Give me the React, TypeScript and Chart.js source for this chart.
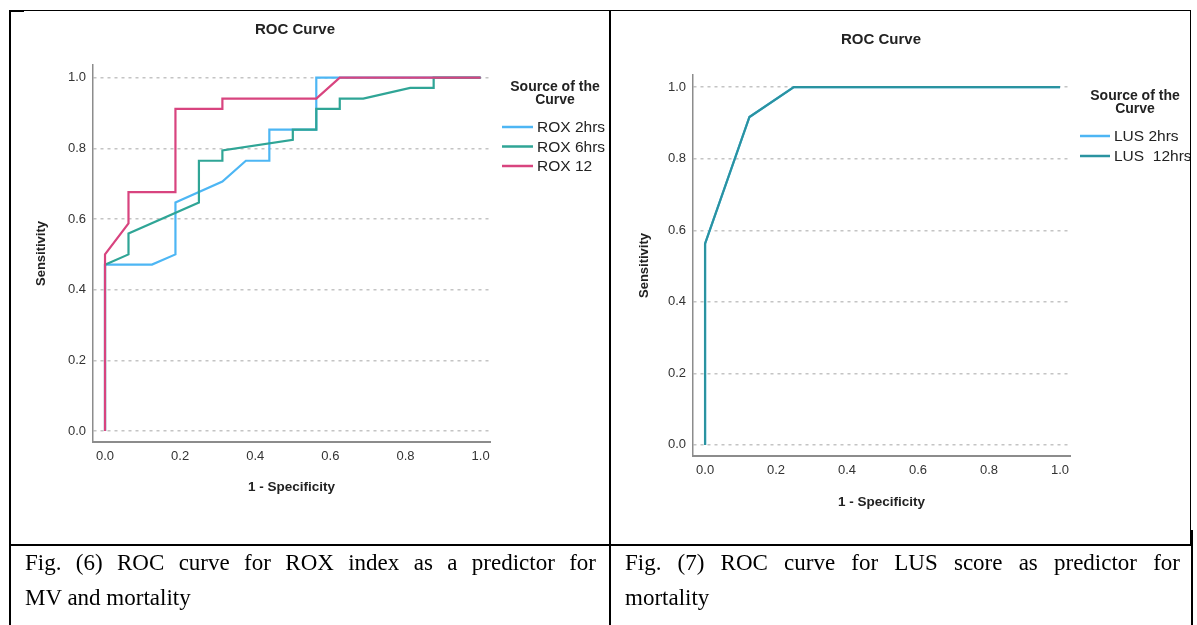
import React, { useEffect, useRef } from "react";
import { Chart, registerables } from "chart.js";

Chart.register(...registerables);

const FONT = "'Liberation Sans', Arial, sans-serif";

// Tick values for both axes
const xTickValues = [0, 0.2, 0.4, 0.6, 0.8, 1.0];
const yTickValues = [0, 0.2, 0.4, 0.6, 0.8, 1.0];

// Fig. 6 — ROX index (1 - specificity, sensitivity)
const rox2Label = "ROX 2hrs";
const rox2X = [0, 0, 0.125, 0.1875, 0.1875, 0.3125, 0.375, 0.4375, 0.4375, 0.5625, 0.5625, 1.0];
const rox2Y = [0, 0.471, 0.471, 0.5, 0.647, 0.706, 0.765, 0.765, 0.853, 0.853, 1.0, 1.0];

const rox6Label = "ROX 6hrs";
const rox6X = [0, 0, 0.0625, 0.0625, 0.25, 0.25, 0.3125, 0.3125, 0.5, 0.5, 0.5625, 0.5625, 0.625, 0.625, 0.6875, 0.8125, 0.875, 0.875, 1.0];
const rox6Y = [0, 0.471, 0.5, 0.559, 0.647, 0.765, 0.765, 0.794, 0.824, 0.853, 0.853, 0.912, 0.912, 0.941, 0.941, 0.971, 0.971, 1.0, 1.0];

const rox12Label = "ROX 12";
const rox12X = [0, 0, 0.0625, 0.0625, 0.1875, 0.1875, 0.3125, 0.3125, 0.5625, 0.625, 1.0];
const rox12Y = [0, 0.5, 0.588, 0.676, 0.676, 0.912, 0.912, 0.941, 0.941, 1.0, 1.0];

// Fig. 7 — LUS score
const lus2Label = "LUS 2hrs";
const lus2X = [0, 0, 0.125, 0.25, 1.0];
const lus2Y = [0, 0.5625, 0.9167, 1.0, 1.0];

const lus12Label = "LUS  12hrs";
const lus12X = [0, 0, 0.125, 0.25, 1.0];
const lus12Y = [0, 0.5625, 0.9167, 1.0, 1.0];

const chartTitle = "ROC Curve";
const legendTitle = ["Source of the", "Curve"];
const xAxisTitle = "1 - Specificity";
const yAxisTitle = "Sensitivity";

const caption6Lines = ["Fig. (6) ROC curve for ROX index as a predictor for", "MV and mortality"];
const caption7Lines = ["Fig. (7) ROC curve for LUS score as predictor for", "mortality"];

type Series = { label: string; xs: number[]; ys: number[]; color: string; order: number };

type Geo = {
  width: number;
  height: number;
  padLeft: number;
  padRight: number;
  padTop: number;
  padBottom: number;
  yScaleWidth: number;
  xScaleHeight: number;
  xMin: number;
  xMax: number;
  yMin: number;
  yMax: number;
  titleX: number;
  titleY: number;
  legendX: number;
  legendTitleY: number;
  entryY: number;
  entryGap: number;
  lineX0: number;
  lineX1: number;
  textX: number;
};

function makeDecor(geo: Geo) {
  return {
    id: "decor",
    afterDraw(chart: any) {
      const ctx = chart.ctx as CanvasRenderingContext2D;
      ctx.save();
      ctx.fillStyle = "#222";
      ctx.textAlign = "center";
      ctx.textBaseline = "middle";
      ctx.font = `bold 15px ${FONT}`;
      ctx.fillText(chartTitle, geo.titleX, geo.titleY);
      ctx.font = `bold 14px ${FONT}`;
      legendTitle.forEach((t, i) => ctx.fillText(t, geo.legendX, geo.legendTitleY + i * 13));
      chart.data.datasets.forEach((ds: any, i: number) => {
        const y = geo.entryY + i * geo.entryGap;
        ctx.strokeStyle = ds.borderColor;
        ctx.lineWidth = 2.5;
        ctx.beginPath();
        ctx.moveTo(geo.lineX0, y);
        ctx.lineTo(geo.lineX1, y);
        ctx.stroke();
        ctx.font = `15.5px ${FONT}`;
        ctx.textAlign = "left";
        ctx.fillStyle = "#222";
        ctx.fillText(ds.label, geo.textX, y + 1);
      });
      ctx.restore();
    },
  };
}

function RocPanel({ series, geo, left, top }: { series: Series[]; geo: Geo; left: number; top: number }) {
  const ref = useRef<HTMLCanvasElement | null>(null);
  useEffect(() => {
    if (!ref.current) return;
    const tickSetter = (vals: number[]) => (scale: any) => {
      scale.ticks = vals.map((v) => ({ value: v }));
    };
    const chart = new Chart(ref.current, {
      type: "scatter",
      data: {
        datasets: series.map((s) => ({
          label: s.label,
          data: s.xs.map((x, i) => ({ x, y: s.ys[i] })),
          borderColor: s.color,
          backgroundColor: s.color,
          borderWidth: 2.2,
          showLine: true,
          pointRadius: 0,
          pointHoverRadius: 0,
          tension: 0,
          order: s.order,
        })),
      },
      options: {
        animation: false,
        responsive: false,
        maintainAspectRatio: false,
        events: [],
        layout: {
          padding: { left: geo.padLeft, right: geo.padRight, top: geo.padTop, bottom: geo.padBottom },
        },
        plugins: { legend: { display: false }, tooltip: { enabled: false }, title: { display: false } },
        scales: {
          x: {
            type: "linear",
            min: geo.xMin,
            max: geo.xMax,
            afterBuildTicks: tickSetter(xTickValues),
            afterFit: (scale: any) => {
              scale.height = geo.xScaleHeight;
            },
            grid: { display: false, drawTicks: false },
            border: { display: true, color: "#8c8c8c", width: 2 },
            ticks: {
              padding: 7,
              color: "#333",
              font: { family: FONT, size: 13 },
              maxRotation: 0,
              autoSkip: false,
              callback: (v: any) => Number(v).toFixed(1),
            },
            title: {
              display: true,
              text: xAxisTitle,
              color: "#222",
              font: { family: FONT, size: 13.5, weight: "bold" },
              padding: 0,
            },
          },
          y: {
            type: "linear",
            min: geo.yMin,
            max: geo.yMax,
            afterBuildTicks: tickSetter(yTickValues),
            afterFit: (scale: any) => {
              scale.width = geo.yScaleWidth;
            },
            grid: { display: true, drawTicks: false, color: "#c4c4c4", lineWidth: 1.5 },
            border: { display: true, color: "#8c8c8c", width: 1.5, dash: [3, 4] },
            ticks: {
              padding: 7,
              color: "#333",
              font: { family: FONT, size: 13 },
              autoSkip: false,
              callback: (v: any) => Number(v).toFixed(1),
            },
            title: {
              display: true,
              text: yAxisTitle,
              color: "#222",
              font: { family: FONT, size: 13, weight: "bold" },
              padding: 0,
            },
          },
        },
      } as any,
      plugins: [makeDecor(geo)],
    });
    return () => chart.destroy();
  }, []);
  return (
    <canvas
      ref={ref}
      width={geo.width}
      height={geo.height}
      style={{ position: "absolute", left, top, width: geo.width, height: geo.height }}
    />
  );
}

const roxSeries: Series[] = [
  { label: rox2Label, xs: rox2X, ys: rox2Y, color: "#4db6f4", order: 3 },
  { label: rox6Label, xs: rox6X, ys: rox6Y, color: "#2fa596", order: 2 },
  { label: rox12Label, xs: rox12X, ys: rox12Y, color: "#d8447f", order: 1 },
];

const lusSeries: Series[] = [
  { label: lus2Label, xs: lus2X, ys: lus2Y, color: "#4db6f4", order: 2 },
  { label: lus12Label, xs: lus12X, ys: lus12Y, color: "#2a93a0", order: 1 },
];

const geoLeft: Geo = {
  width: 598,
  height: 533,
  padLeft: 23,
  padRight: 119,
  padTop: 54,
  padBottom: 49,
  yScaleWidth: 59,
  xScaleHeight: 53,
  xMin: -0.032,
  xMax: 1.025,
  yMin: -0.031,
  yMax: 1.036,
  titleX: 284,
  titleY: 19,
  legendX: 544,
  legendTitleY: 76,
  entryY: 116,
  entryGap: 19.5,
  lineX0: 491,
  lineX1: 522,
  textX: 526,
};

const geoRight: Geo = {
  width: 578,
  height: 533,
  padLeft: 25,
  padRight: 120,
  padTop: 64,
  padBottom: 34,
  yScaleWidth: 56,
  xScaleHeight: 54,
  xMin: -0.034,
  xMax: 1.028,
  yMin: -0.031,
  yMax: 1.034,
  titleX: 269,
  titleY: 29,
  legendX: 523,
  legendTitleY: 85,
  entryY: 125,
  entryGap: 20,
  lineX0: 468,
  lineX1: 498,
  textX: 502,
};

const line = (s: React.CSSProperties): React.CSSProperties => ({ position: "absolute", background: "#000", ...s });

const captionStyle: React.CSSProperties = {
  position: "absolute",
  top: 545,
  fontFamily: "'Liberation Serif', 'Times New Roman', serif",
  fontSize: 23,
  lineHeight: "35px",
  color: "#000",
  margin: 0,
};

function Caption({ lines, left, width }: { lines: string[]; left: number; width: number }) {
  return (
    <div style={{ ...captionStyle, left, width }}>
      <div style={{ textAlign: "justify", textAlignLast: "justify", whiteSpace: "nowrap" } as React.CSSProperties}>
        {lines[0]}
      </div>
      <div>{lines[1]}</div>
    </div>
  );
}

export default function App() {
  useEffect(() => {
    document.body.style.margin = "0";
  }, []);
  return (
    <div style={{ position: "absolute", left: 0, top: 0, width: 1197, height: 625, background: "#fff", overflow: "hidden" }}>
      <RocPanel series={roxSeries} geo={geoLeft} left={11} top={11} />
      <RocPanel series={lusSeries} geo={geoRight} left={612} top={11} />
      {/* table borders */}
      <div style={line({ left: 10, top: 10, width: 1181, height: 1 })} />
      <div style={line({ left: 10, top: 10, width: 14, height: 2 })} />
      <div style={line({ left: 9, top: 10, width: 2, height: 615 })} />
      <div style={line({ left: 609, top: 10, width: 2, height: 615 })} />
      <div style={line({ left: 1190, top: 10, width: 1, height: 535 })} />
      <div style={line({ left: 1191, top: 530, width: 2, height: 95 })} />
      <div style={line({ left: 9, top: 544, width: 1184, height: 2 })} />
      <Caption lines={caption6Lines} left={25} width={571} />
      <Caption lines={caption7Lines} left={625} width={555} />
    </div>
  );
}
